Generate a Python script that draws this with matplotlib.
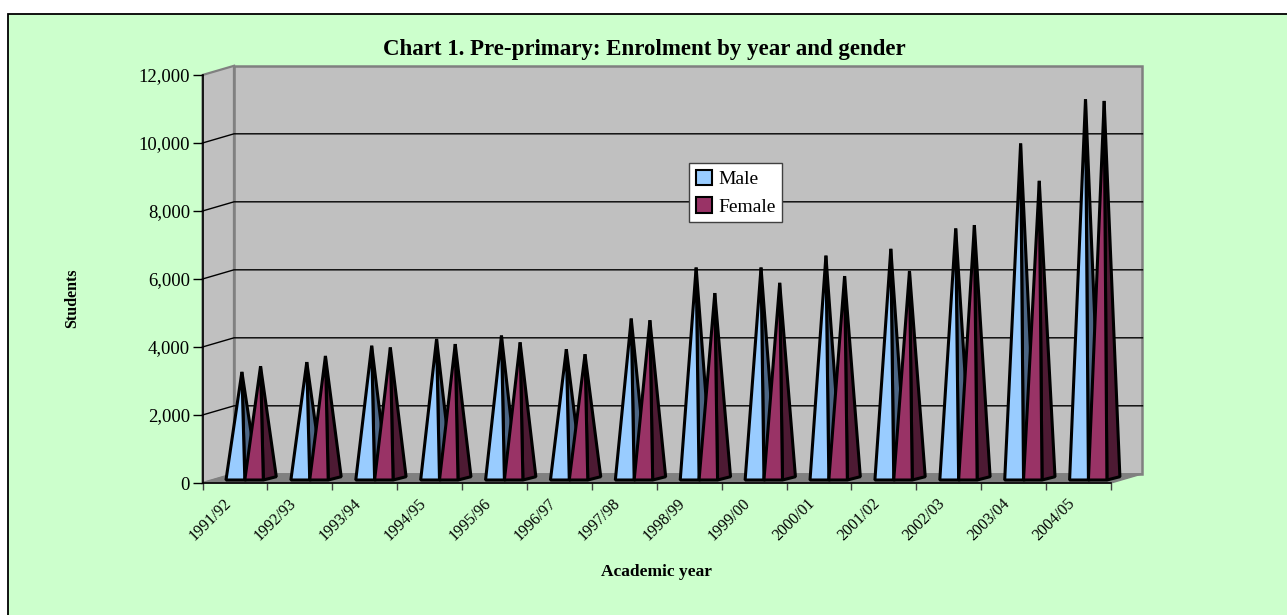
import matplotlib
matplotlib.use('Agg')
import matplotlib.pyplot as plt
from matplotlib.patches import Patch, Polygon, Rectangle

years = ['1991/92', '1992/93', '1993/94', '1994/95', '1995/96', '1996/97', '1997/98',
         '1998/99', '1999/00', '2000/01', '2001/02', '2002/03', '2003/04', '2004/05']
male = [3130, 3420, 3900, 4100, 4200, 3800, 4700, 6200, 6200, 6550, 6750, 7350, 9850, 11150]
female = [3300, 3600, 3850, 3950, 4000, 3650, 4650, 5450, 5750, 5950, 6100, 7450, 8750, 11100]
yticks = [0, 2000, 4000, 6000, 8000, 10000, 12000]

plt.rcParams['font.family'] = ['Liberation Serif', 'DejaVu Serif']

W, H = 1287, 615
fig = plt.figure(figsize=(W / 100, H / 100), dpi=100, facecolor='white')

# green panel behind everything, runs off the right and bottom edge
fig.patches.append(Rectangle((8 / W, -10 / H), 1300 / W, (601 + 10) / H, transform=fig.transFigure,
                             facecolor='#CCFFCC', edgecolor='black', linewidth=1.3, zorder=-5))

# axes = front plane of the 3d box
ax = fig.add_axes([202.5 / W, 1 - 483 / H, 908.5 / W, 408 / H])
ax.set_xlim(0, 14)
ax.set_ylim(0, 12000)
ax.patch.set_visible(False)
for s in ax.spines.values():
    s.set_visible(False)

# box depth in data units
bx = 0.485
by = 270
ax.add_patch(Polygon([(bx, by), (14 + bx, by), (14 + bx, 12000 + by), (bx, 12000 + by)],
                     closed=True, fc='#C0C0C0', ec='#808080', lw=1.8, clip_on=False, zorder=1))
ax.add_patch(Polygon([(0, 0), (bx, by), (bx, 12000 + by), (0, 12000)],
                     closed=True, fc='#C0C0C0', ec='#808080', lw=1.6, clip_on=False, zorder=1))
ax.add_patch(Polygon([(0, 0), (14, 0), (14 + bx, by), (bx, by)],
                     closed=True, fc='#808080', ec='#808080', lw=1, clip_on=False, zorder=1))
for v in yticks[1:-1]:
    ax.plot([0, bx, 14 + bx], [v, v + by, v + by], color='black', lw=1.0, clip_on=False, zorder=2)
ax.plot([0, 0], [0, 12000], color='black', lw=1.2, clip_on=False, zorder=6)
ax.plot([0, 14], [0, 0], color='black', lw=1.2, clip_on=False, zorder=6)


def pyramid(left, width, value, front, side):
    dx = 0.2
    dy = 97
    y0 = 88
    right = left + width
    apex = (left + width / 2 + dx / 2, y0 + dy / 2 + value)
    ax.add_patch(Polygon([(right, y0), (right + dx, y0 + dy), apex], closed=True, fc=side,
                         ec='black', lw=2.2, joinstyle='bevel', clip_on=False, zorder=4))
    ax.add_patch(Polygon([(left, y0), (right, y0), apex], closed=True, fc=front,
                         ec='black', lw=2.2, joinstyle='bevel', clip_on=False, zorder=4))


for i in range(len(years)):
    pyramid(i + 0.362, 0.29, male[i], '#99CCFF', '#4C6685')
    pyramid(i + 0.652, 0.285, female[i], '#993366', '#4D1A33')

ax.set_xticks(range(15))
ax.set_xticklabels([])
ax.set_xticks([i + 0.32 for i in range(14)], minor=True)
ax.set_xticklabels(years, minor=True, rotation=45, ha='right', rotation_mode='anchor', fontsize=11.5)
ax.tick_params(axis='x', which='major', length=5, width=1, color='#404040')
ax.tick_params(axis='x', which='minor', length=0, pad=9)
ax.set_yticks(yticks)
ax.set_yticklabels([f'{v:,}' for v in yticks], fontsize=13.5)
ax.tick_params(axis='y', length=7, width=1, color='black', pad=2)

fig.text(644 / W, 1 - 49 / H, 'Chart 1. Pre-primary: Enrolment by year and gender', fontsize=16.5,
         fontweight='bold', ha='center', va='center')
fig.text(72 / W, 1 - 298 / H, 'Students', fontsize=11.5, fontweight='bold', rotation=90,
         ha='center', va='center')
fig.text(656 / W, 1 - 572 / H, 'Academic year', fontsize=12.5, fontweight='bold',
         ha='center', va='center')

handles = [Patch(fc='#99CCFF', ec='black', lw=1.5, label='Male'),
           Patch(fc='#993366', ec='black', lw=1.5, label='Female')]
leg = ax.legend(handles=handles, loc='upper left', bbox_to_anchor=(689 / W, 1 - 163 / H),
                bbox_transform=fig.transFigure, fontsize=14, fancybox=False, framealpha=1,
                edgecolor='#404040', handlelength=0.85, handleheight=0.85, handletextpad=0.3,
                borderpad=0.35, borderaxespad=0, labelspacing=0.45)
leg.set_zorder(5)

fig.savefig('out.png', dpi=100)
